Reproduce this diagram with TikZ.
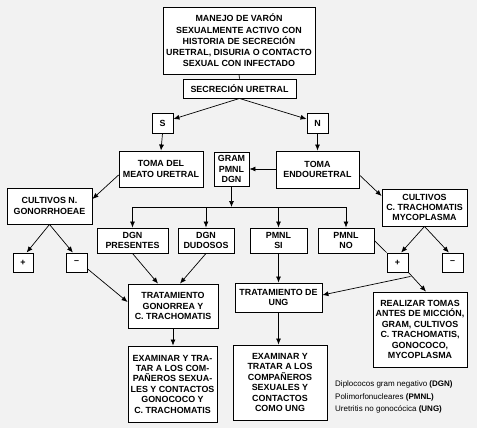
\documentclass[tikz,border=0pt]{standalone}
\usepackage{fontspec}
\setmainfont{Liberation Sans}
\usetikzlibrary{arrows.meta,calc}
\begin{document}
\begin{tikzpicture}[x=1pt,y=-1pt,
  bx/.style={draw,fill=white,line width=0.9pt,align=center,inner sep=0.5pt,font=\bfseries\fontsize{8.9}{10.4}\selectfont},
  sz/.style 2 args={minimum width=#1pt,minimum height=#2pt},
  arr/.style={line width=0.7pt,-{Latex[length=6pt,width=5pt]}},
  ln/.style={line width=0.7pt},
  lg/.style={anchor=west,inner sep=0pt,font=\fontsize{8}{9}\selectfont}]
\useasboundingbox (0,0) rectangle (477,428);
\fill[gray!10] (0,0) rectangle (477,428);

\node[bx,sz={152}{67},font=\bfseries\fontsize{8.9}{11.25}\selectfont] (top) at (239,40.5) {MANEJO DE VARÓN\\SEXUALMENTE ACTIVO CON\\HISTORIA DE SECRECIÓN\\URETRAL, DISURIA O CONTACTO\\SEXUAL CON INFECTADO};
\node[bx,sz={113}{19}] (sec) at (239.5,88.5) {SECRECIÓN URETRAL};
\node[bx,sz={21}{20}] (S) at (162.5,123) {S};
\node[bx,sz={21}{20}] (N) at (317.5,123) {N};
\node[bx,sz={84}{36}] (meato) at (161,169) {TOMA DEL\\MEATO URETRAL};
\node[bx,sz={35}{34}] (gram) at (231.5,169) {GRAM\\PMNL\\DGN};
\node[bx,sz={83}{37}] (endo) at (317.5,169.5) {TOMA\\ENDOURETRAL};
\node[bx,sz={85}{36}] (cultN) at (49.5,206) {CULTIVOS N.\\GONORRHOEAE};
\node[bx,sz={85}{37}] (cultC) at (424.5,207.5) {CULTIVOS\\C. TRACHOMATIS\\MYCOPLASMA};
\node[bx,sz={71}{25}] (dgnP) at (132.5,240.5) {DGN\\PRESENTES};
\node[bx,sz={56}{25}] (dgnD) at (206,240.5) {DGN\\DUDOSOS};
\node[bx,sz={57}{25}] (pmS) at (278.5,240.5) {PMNL\\SI};
\node[bx,sz={56}{25}] (pmN) at (346,240.5) {PMNL\\NO};
\node[bx,sz={20}{19}] (plusL) at (23,262.5) {+};
\node[bx,sz={21}{19}] (minL) at (76.5,262.5) {–};
\node[bx,sz={21}{19}] (plusR) at (397.5,262.5) {+};
\node[bx,sz={21}{19}] (minR) at (452.5,262.5) {–};
\node[bx,sz={90}{44}] (tratG) at (173,306) {TRATAMIENTO\\GONORREA Y\\C. TRACHOMATIS};
\node[bx,sz={87}{29}] (tratU) at (278.5,297.5) {TRATAMIENTO DE\\UNG};
\node[bx,sz={94}{75}] (realiz) at (420,329.5) {REALIZAR TOMAS\\ANTES DE MICCIÓN,\\GRAM, CULTIVOS\\C. TRACHOMATIS,\\GONOCOCO,\\MYCOPLASMA};
\node[bx,sz={89}{76}] (exL) at (172.5,384) {EXAMINAR Y TRA-\\TAR A LOS COM-\\PAÑEROS SEXUA-\\LES Y CONTACTOS\\GONOCOCO Y\\C. TRACHOMATIS};
\node[bx,sz={94}{75}] (exR) at (280,382.5) {EXAMINAR Y\\TRATAR A LOS\\COMPAÑEROS\\SEXUALES Y\\CONTACTOS\\COMO UNG};

\node[lg] (l1) at (335,384) {Diplococos gram negativo \textbf{(DGN)}};
\node[lg] (l2) at (335,397.5) {Polimorfonucleares \textbf{(PMNL)}};
\node[lg] (l3) at (335,409.5) {Uretritis no gonocócica \textbf{(UNG)}};

% connectors
\draw[ln] (top.south) -- (sec.north);
\draw[arr] (sec.south) -- (S.20);
\draw[arr] (sec.south) -- (N.160);
\draw[arr] (S.south) -- (meato.north);
\draw[arr] (N.south) -- (endo.north);
\draw[arr] ($(meato.west)+(0,6)$) -- ($(cultN.east)+(0,-7)$);
\draw[arr] (endo.west |- gram.east) -- (gram.east);
\draw[arr] ($(endo.east)+(0,5.5)$) -- ($(cultC.west)+(0,-11.5)$);
\coordinate (busL) at (132.5,207);
\coordinate (busR) at (346,207);
\draw[arr] (gram.south) -- (gram.south |- busL);
\draw[ln] (busL) -- (busR);
\draw[arr] (dgnP.north |- busL) -- (dgnP.north);
\draw[arr] (dgnD.north |- busL) -- (dgnD.north);
\draw[arr] (pmS.north |- busL) -- (pmS.north);
\draw[arr] (pmN.north |- busL) -- (pmN.north);
\draw[arr] (cultN.south) -- (plusL.70);
\draw[arr] (cultN.south) -- (minL.110);
\draw[arr] (cultC.south) -- (plusR.70);
\draw[arr] (cultC.south) -- (minR.110);
\draw[ln] (pmN.east) -- (plusR.north west);
\coordinate (pj) at ($(plusR.south east)+(2,4)$);
\draw[arr] (pj) -- ($(tratU.east)+(0,-2.5)$);
\draw[arr] (plusR.south east) -- ($(realiz.north)+(6,0)$);
\draw[arr] (pmS.south) -- (tratU.north);
\draw[arr] (dgnP.south) -- ($(tratG.north)+(-15,0)$);
\draw[arr] (dgnD.south) -- ($(tratG.north)+(7,0)$);
\draw[arr] (minL.-30) -- ($(tratG.west)+(0,-4)$);
\draw[arr] (tratG.south) -- (tratG.south |- exL.north);
\draw[arr] (tratU.south) -- (tratU.south |- exR.north);
\end{tikzpicture}
\end{document}
